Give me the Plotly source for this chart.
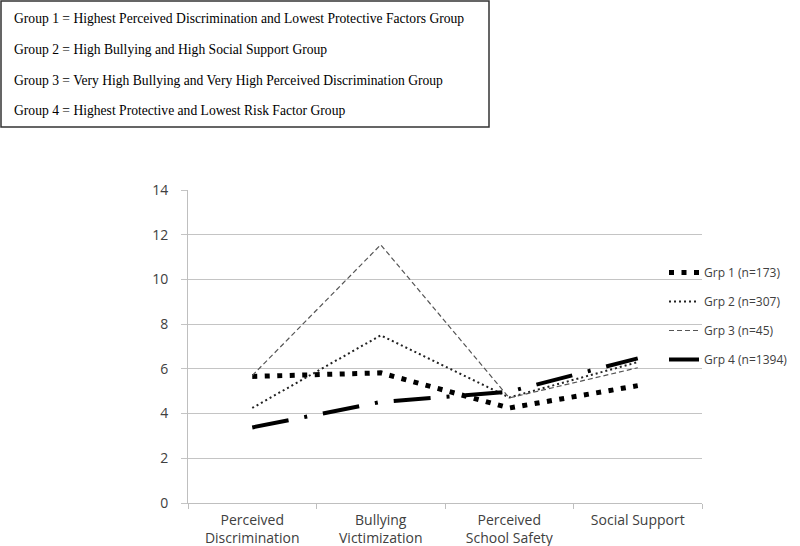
import plotly.graph_objects as go

categories = ["Perceived<br>Discrimination", "Bullying<br>Victimization", "Perceived<br>School Safety", "Social Support"]
grp1 = [5.66, 5.82, 4.25, 5.25]
grp2 = [4.25, 7.5, 4.72, 6.3]
grp3 = [5.7, 11.55, 4.7, 6.05]
grp4 = [3.38, 4.52, 4.98, 6.47]
names = ["Grp 1 (n=173)", "Grp 2 (n=307)", "Grp 3 (n=45)", "Grp 4 (n=1394)"]
box_lines = [
    "Group 1 = Highest Perceived Discrimination and Lowest Protective Factors Group",
    "Group 2 = High Bullying and High Social Support Group",
    "Group 3 = Very High Bullying and Very High Perceived Discrimination Group",
    "Group 4 = Highest Protective and Lowest Risk Factor Group",
]

W, H = 800, 546
L, R, T, B = 188, 702, 190, 503

def px(x):
    return (x - L) / (R - L)

def py(y):
    return (B - y) / (B - T)

styles = [
    dict(color="black", width=5, dash="5px,7.5px"),
    dict(color="#222222", width=2, dash="2px,3px"),
    dict(color="#555555", width=1.2, dash="5px,3px"),
    dict(color="black", width=4, dash="37px,16px,3px,16px"),
]

fig = go.Figure()
for i, (vals, nm, st) in enumerate(zip([grp1, grp2, grp3, grp4], names, styles)):
    fig.add_trace(go.Scatter(x=categories, y=vals, name=nm, mode="lines",
                             line=st, legendgroup=str(i)))

fig.add_shape(type="rect", xref="paper", yref="paper",
              x0=px(1), x1=px(489), y0=py(127), y1=py(1),
              line=dict(color="#333333", width=1.5), fillcolor="white", layer="above")
for i, t in enumerate(box_lines):
    fig.add_annotation(text=t, xref="paper", yref="paper", x=px(12), y=py(18 + 31 * i),
                       xanchor="left", yanchor="middle", showarrow=False,
                       font=dict(family="Liberation Serif", size=13.6, color="black"))

fig.update_layout(
    width=W, height=H,
    margin=dict(l=L, r=W - R, t=T, b=H - B, autoexpand=False),
    paper_bgcolor="white", plot_bgcolor="white",
    font=dict(family="Open Sans", size=12, color="#404040"),
    legend=dict(xref="container", yref="container", x=664 / W, y=1 - 258 / H,
                xanchor="left", yanchor="top",
                bgcolor="rgba(0,0,0,0)", font=dict(size=12, color="#404040"),
                tracegroupgap=10, itemwidth=30),
    showlegend=True,
)
fig.update_xaxes(range=[-0.5, 3.5], showgrid=False, showline=True, linecolor="#bfbfbf", linewidth=1,
                 ticks="outside", tickson="boundaries", ticklen=5, tickcolor="#bfbfbf",
                 automargin=False, ticklabelstandoff=4, tickfont=dict(size=14, color="#404040"))
fig.update_yaxes(range=[0, 14], dtick=2, showgrid=True, gridcolor="#c4c4c4", gridwidth=1.3,
                 showline=True, linecolor="#bfbfbf", ticks="outside", ticklen=6,
                 tickcolor="#c4c4c4", zeroline=False, automargin=False, ticklabelstandoff=10,
                 tickfont=dict(size=14, color="#404040"))

fig.write_html("out.html", config={"displayModeBar": False},
               post_script="document.body.style.margin='0';")
